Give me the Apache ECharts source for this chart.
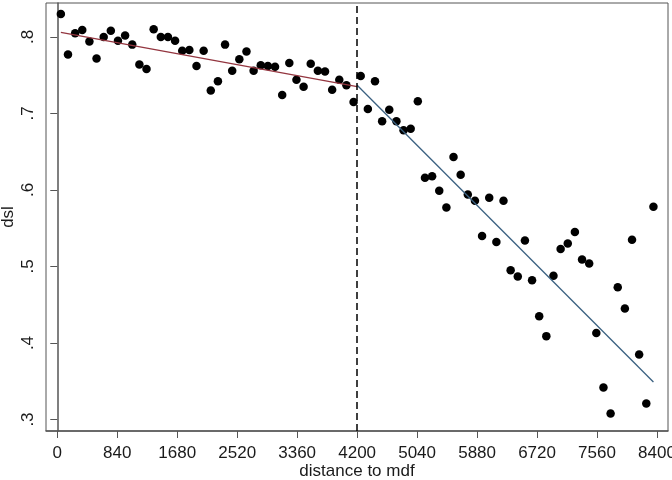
<!DOCTYPE html>
<html>
<head>
<meta charset="utf-8">
<script src="https://cdn.jsdelivr.net/npm/echarts@6/dist/echarts.min.js"></script>
<style>
  html, body { margin: 0; padding: 0; background: #fff; }
  #chart { width: 672px; height: 480px; }
</style>
</head>
<body>
<div id="chart"></div>
<script>
// binned distance to mdf (bin centres) and mean dsl per bin
const distance = [
  50, 150, 250, 350, 450, 550, 650, 750, 850, 950,
  1050, 1150, 1250, 1350, 1450, 1550, 1650, 1750, 1850, 1950,
  2050, 2150, 2250, 2350, 2450, 2550, 2650, 2750, 2850, 2950,
  3050, 3150, 3250, 3350, 3450, 3550, 3650, 3750, 3850, 3950,
  4050, 4150, 4250, 4350, 4450, 4550, 4650, 4750, 4850, 4950,
  5050, 5150, 5250, 5350, 5450, 5550, 5650, 5750, 5850, 5950,
  6050, 6150, 6250, 6350, 6450, 6550, 6650, 6750, 6850, 6950,
  7050, 7150, 7250, 7350, 7450, 7550, 7650, 7750, 7850, 7950,
  8050, 8150, 8250, 8350
];
const dsl = [
  0.830, 0.777, 0.805, 0.809, 0.794, 0.772, 0.800, 0.808, 0.795, 0.802,
  0.790, 0.764, 0.758, 0.810, 0.800, 0.800, 0.795, 0.782, 0.783, 0.762,
  0.782, 0.730, 0.742, 0.790, 0.756, 0.771, 0.781, 0.756, 0.763, 0.762,
  0.761, 0.724, 0.766, 0.744, 0.735, 0.765, 0.756, 0.755, 0.731, 0.744,
  0.737, 0.715, 0.749, 0.706, 0.742, 0.690, 0.705, 0.690, 0.678, 0.680,
  0.716, 0.616, 0.618, 0.599, 0.577, 0.643, 0.620, 0.594, 0.586, 0.540,
  0.590, 0.532, 0.586, 0.495, 0.487, 0.534, 0.482, 0.435, 0.409, 0.488,
  0.523, 0.530, 0.545, 0.509, 0.504, 0.413, 0.342, 0.308, 0.473, 0.445,
  0.535, 0.385, 0.321, 0.578
];
// linear fits either side of the cutoff
const cutoff = 4200;
const fitLeft = [[50, 0.806], [4200, 0.735]];
const fitRight = [[4200, 0.737], [8350, 0.349]];
const xTicks = [0, 840, 1680, 2520, 3360, 4200, 5040, 5880, 6720, 7560, 8400];
const yTicks = [0.3, 0.4, 0.5, 0.6, 0.7, 0.8];

const chart = echarts.init(document.getElementById('chart'));
const font = 'Liberation Sans, Arial, sans-serif';
const textColor = '#1a1a1a';
const frameColor = '#555';

const points = distance.map((d, i) => [d, dsl[i]]);

chart.setOption({
  animation: false,
  grid: {
    left: 46, top: 3, right: 4, bottom: 49,
    containLabel: false,
    outerBoundsMode: 'none',
    show: true, borderColor: frameColor, borderWidth: 1
  },
  xAxis: {
    type: 'value',
    min: -158, max: 8554,
    name: 'distance to mdf',
    nameLocation: 'middle',
    nameGap: 32,
    nameMoveOverlap: false,
    nameTextStyle: { fontFamily: font, fontSize: 17, color: textColor },
    axisLine: { show: true, lineStyle: { color: frameColor, width: 1.5 } },
    axisTick: { show: true, length: 7, customValues: xTicks, lineStyle: { color: frameColor } },
    axisLabel: {
      customValues: xTicks, margin: 14,
      fontFamily: font, fontSize: 17, color: textColor,
      formatter: v => String(v)
    },
    splitLine: { show: false }
  },
  yAxis: {
    type: 'value',
    min: 0.285, max: 0.8444,
    name: 'dsl',
    nameLocation: 'middle',
    nameRotate: 90,
    nameGap: 29,
    nameMoveOverlap: false,
    nameTextStyle: { fontFamily: font, fontSize: 17, color: textColor },
    axisLine: { show: true, lineStyle: { color: frameColor, width: 1.5 } },
    axisTick: { show: true, length: 7, customValues: yTicks, lineStyle: { color: frameColor } },
    axisLabel: {
      customValues: yTicks, rotate: 90, margin: 9,
      fontFamily: font, fontSize: 17, color: textColor,
      formatter: v => String(Math.round(v * 10) / 10).replace(/^0/, '')
    },
    splitLine: { show: false }
  },
  series: [
    {
      type: 'scatter',
      data: points,
      symbolSize: 8.5,
      itemStyle: { color: '#000', opacity: 1 },
      clip: false,
      z: 3
    },
    {
      type: 'line',
      data: fitLeft,
      symbol: 'none',
      lineStyle: { color: '#93353f', width: 1.3 },
      z: 4
    },
    {
      type: 'line',
      data: fitRight,
      symbol: 'none',
      lineStyle: { color: '#3a6080', width: 1.3 },
      z: 4,
      markLine: {
        silent: true,
        symbol: 'none',
        label: { show: false },
        lineStyle: { color: '#000', type: [7, 4], width: 1.5 },
        data: [{ xAxis: cutoff }]
      }
    }
  ]
});
</script>
</body>
</html>
